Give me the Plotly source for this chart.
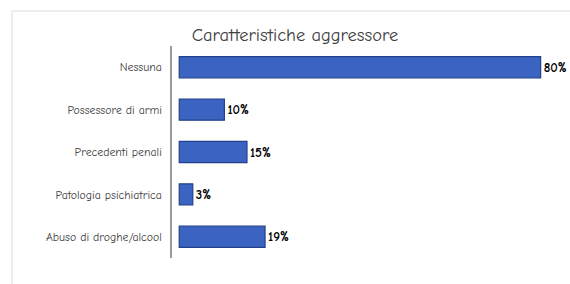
import plotly.graph_objects as go

categories = ["Nessuna", "Possessore di armi", "Precedenti penali",
              "Patologia psichiatrica", "Abuso di droghe/alcool"]
values = [80, 10, 15, 3, 19]
labels = ["80%", "10%", "15%", "3%", "19%"]

FONT = "Comic Sans MS, Comic Neue, Lato, DejaVu Sans, sans-serif"

fig = go.Figure()
fig.add_trace(go.Bar(
    y=categories, x=values, orientation="h",
    text=labels, textposition="outside", cliponaxis=False,
    textfont=dict(family=FONT, size=13, color="#000000", weight="bold"),
    marker=dict(color="#3b63c2", line=dict(color="#23408a", width=1.2)),
    width=0.5,
))

fig.update_layout(
    width=570, height=284,
    margin=dict(l=172, r=0, t=46, b=26),
    paper_bgcolor="white", plot_bgcolor="white",
    showlegend=False,
    title=dict(text="Caratteristiche aggressore", x=0.5175, xanchor="center",
               y=1 - 35/284, yanchor="middle",
               font=dict(family=FONT, size=18.5, color="#404040")),
    xaxis=dict(range=[-1.6, 86.5], visible=False, showgrid=False, zeroline=False),
    yaxis=dict(categoryorder="array", categoryarray=categories[::-1],
               showline=True, linecolor="#9a9a9a", linewidth=1.5,
               showgrid=False, ticks="", ticklabelstandoff=6,
               tickfont=dict(family=FONT, size=11.8, color="#404040")),
    shapes=[dict(type="path", xref="paper", yref="paper",
                 path="M -0.402 -0.2 L -0.402 1.165 L 1.05 1.165",
                 line=dict(color="#dcdcdc", width=1))],
)

fig.write_html("out.html",
               config={"displayModeBar": False},
               post_script="document.body.style.margin='0';document.body.style.overflow='hidden';")
